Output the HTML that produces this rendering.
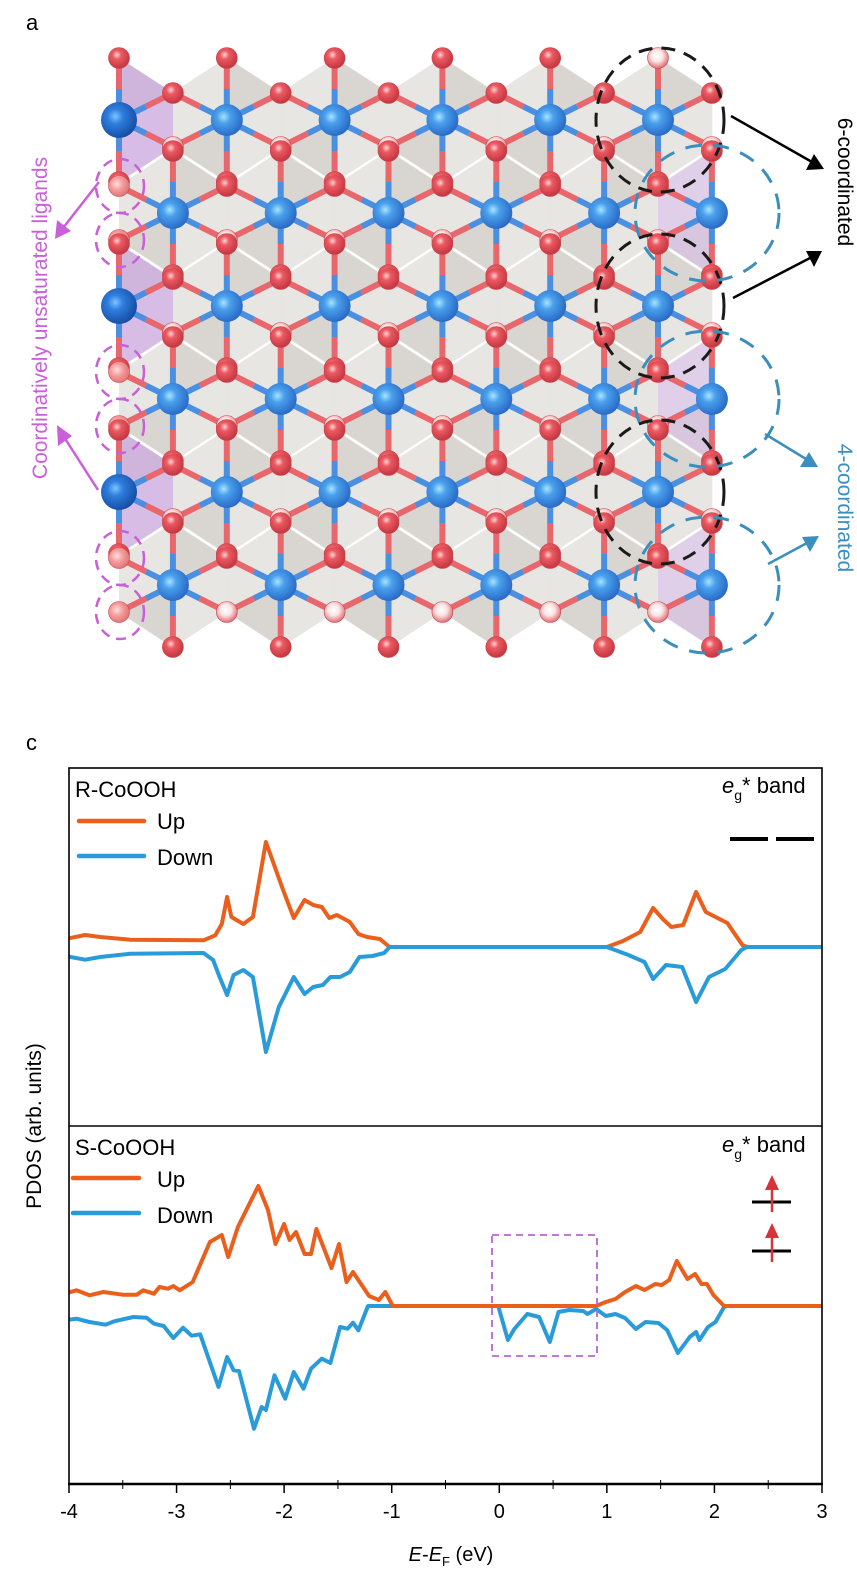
<!DOCTYPE html>
<html><head><meta charset="utf-8">
<style>
html,body{margin:0;padding:0;background:#fff;}
svg{display:block;font-family:"Liberation Sans",Arial,sans-serif;}
</style></head>
<body>
<svg id="fig" width="857" height="1582" viewBox="0 0 857 1582" xmlns="http://www.w3.org/2000/svg">
<defs>
<radialGradient id="gCo" cx="0.4" cy="0.4" r="0.6"><stop offset="0" stop-color="#a8e4ff"/><stop offset="0.35" stop-color="#4aa0ec"/><stop offset="1" stop-color="#2a6cc8"/></radialGradient>
<radialGradient id="gCoE" cx="0.4" cy="0.4" r="0.6"><stop offset="0" stop-color="#7cc4ff"/><stop offset="0.35" stop-color="#2f7ede"/><stop offset="1" stop-color="#174fa8"/></radialGradient>
<radialGradient id="gO" cx="0.4" cy="0.35" r="0.6"><stop offset="0" stop-color="#ffd6d6"/><stop offset="0.35" stop-color="#ec5a62"/><stop offset="1" stop-color="#c73a44"/></radialGradient>
<radialGradient id="gH" cx="0.45" cy="0.4" r="0.6"><stop offset="0" stop-color="#ffffff"/><stop offset="0.45" stop-color="#fbe6e6"/><stop offset="1" stop-color="#e06a70"/></radialGradient>
<radialGradient id="gP" cx="0.4" cy="0.4" r="0.6"><stop offset="0" stop-color="#ffe0e0"/><stop offset="0.5" stop-color="#f59a9a"/><stop offset="1" stop-color="#e07878"/></radialGradient>
<clipPath id="clipP"><rect x="69" y="768" width="753" height="716"/></clipPath>
<clipPath id="clipC"><rect x="119" y="40" width="594" height="620"/></clipPath>
</defs>

<text x="26" y="30" font-size="22">a</text>
<g id="crystal"></g>
<g id="annot"></g>

<text x="26" y="750" font-size="22">c</text>
<g id="chart"></g>
</svg>

<script>
// ---------- Chart data ----------
const xTicks = [-4,-3,-2,-1,0,1,2,3];
const xTickLabels = ["-4","-3","-2","-1","0","1","2","3"];
const rUpE = [-4.02,-3.85,-3.71,-3.43,-2.75,-2.64,-2.58,-2.53,-2.49,-2.38,-2.29,-2.17,-2.01,-1.91,-1.81,-1.73,-1.65,-1.58,-1.51,-1.39,-1.31,-1.23,-1.11,-1.02,0.0,1.0,1.15,1.31,1.43,1.52,1.60,1.71,1.83,1.92,2.12,2.26,2.3,3.0];
const rUpV = [8.3,12,10,7.3,6.7,11.7,23,50,30,23,30,105,57,29,47,42,40,29,32,25,13,10,8,0,0,0,6,15,39,28,20,22,55,35,24,2,0,0];
const rDnE = [-4.02,-3.85,-3.71,-3.43,-2.75,-2.66,-2.60,-2.53,-2.47,-2.38,-2.29,-2.17,-2.05,-1.91,-1.81,-1.73,-1.64,-1.57,-1.48,-1.39,-1.30,-1.18,-1.07,-1.02,0.0,1.0,1.2,1.35,1.43,1.55,1.7,1.83,1.95,2.1,2.25,2.3,3.0];
const rDnV = [-9.3,-12.7,-10,-6.7,-6,-13,-30,-48,-28,-23,-30,-105,-60,-30,-47,-40,-38,-30,-30,-25,-10,-9,-6,0,0,0,-8,-15,-32,-18,-20,-55,-30,-22,-3,0,0];
const sUpE = [-4.02,-3.93,-3.81,-3.68,-3.50,-3.37,-3.31,-3.21,-3.16,-3.08,-3.03,-2.97,-2.85,-2.69,-2.58,-2.52,-2.43,-2.24,-2.15,-2.08,-2.0,-1.95,-1.89,-1.81,-1.75,-1.70,-1.56,-1.49,-1.42,-1.36,-1.21,-1.12,-1.06,-0.99,0.0,0.90,0.99,1.08,1.17,1.27,1.35,1.45,1.51,1.58,1.65,1.75,1.82,1.88,1.93,1.99,2.09,3.0];
const sUpV = [13,15.7,10.7,14,11.3,11.3,15.7,12.3,19,17.3,20,15.7,24,64,71,49,79,120,96,62,82,66,74,52,52,77,38,62,24,34,10,6,14,0,0,0,4,7,14,20,16,22,21,26,45,27,32,22,22,11,0,0];
const sDnE = [-4.02,-3.93,-3.81,-3.66,-3.58,-3.40,-3.28,-3.21,-3.12,-3.03,-2.94,-2.86,-2.78,-2.61,-2.53,-2.47,-2.42,-2.28,-2.21,-2.17,-2.09,-1.99,-1.91,-1.82,-1.75,-1.65,-1.57,-1.48,-1.41,-1.36,-1.31,-1.22,-0.01,0.08,0.14,0.26,0.37,0.47,0.55,0.65,0.78,0.82,0.90,0.99,1.08,1.17,1.27,1.36,1.48,1.56,1.66,1.77,1.83,1.86,1.94,2.01,2.09,2.12,3.0];
const sDnV = [-14,-12.7,-16,-18.7,-15.3,-11,-11.7,-17.7,-20,-32,-21.7,-29.7,-28.3,-81,-51,-64.3,-65,-122.7,-101,-104,-69.3,-92.7,-66,-82.7,-62.7,-52.7,-57,-21,-22.7,-16.7,-24.3,0,0,-34,-23,-8,-11,-36,-6,-4,-5,-8,-3,-10,-8,-12,-23,-16,-17,-24,-47,-31,-26,-34,-21,-16,-1,0,0];

const NS="http://www.w3.org/2000/svg";
function mk(tag, attrs, parent){const e=document.createElementNS(NS,tag);for(const k in attrs)e.setAttribute(k,attrs[k]);if(parent)parent.appendChild(e);return e;}

const X0=69, X1=822, EMIN=-4, EMAX=3;
function xs(e){return X0+(e-EMIN)/(EMAX-EMIN)*(X1-X0);}
const ZERO1=947, ZERO2=1306, VK=1.0;
function ys1(v){return ZERO1-v*VK;}
function ys2(v){return ZERO2-v*VK;}

const chart=document.getElementById('chart');
function line(E,V,ys,color,name){
  let d='';
  for(let i=0;i<E.length;i++){d+=(i?'L':'M')+xs(E[i]).toFixed(1)+','+ys(V[i]).toFixed(1);}
  const p=mk('path',{d:d,fill:'none',stroke:color,'stroke-width':4,'stroke-linejoin':'round','stroke-linecap':'round','clip-path':'url(#clipP)'},chart);
  
  
}
const OR='#ea5f1c', BL='#2a9bd9';
line(rUpE,rUpV,ys1,OR,'r-cooh-up-line');
line(rDnE,rDnV,ys1,BL,'r-cooh-down-line');
line(sDnE,sDnV,ys2,BL,'s-cooh-down-line');
line(sUpE,sUpV,ys2,OR,'s-cooh-up-line');

const fr=mk('rect',{x:X0,y:768,width:X1-X0,height:1484-768,fill:'none',stroke:'#000','stroke-width':1.6},chart);


const dv=mk('line',{x1:X0,x2:X1,y1:1126,y2:1126,stroke:'#000','stroke-width':1.6},chart);


const xa=mk('line',{x1:X0-1,x2:X1+1,y1:1484,y2:1484,stroke:'#000','stroke-width':2.6},chart);



for(let i=0;i<xTicks.length;i++){
  const x=xs(xTicks[i]);
  const t=mk('line',{x1:x,x2:x,y1:1484,y2:1493,stroke:'#000','stroke-width':1.5},chart);
  
  
  const l=mk('text',{x:x,y:1518,'font-size':20,'text-anchor':'middle'},chart);
  l.textContent=xTickLabels[i];
  
  
  if(i<xTicks.length-1){
    const xm=xs(xTicks[i]+0.5);
    const m=mk('line',{x1:xm,x2:xm,y1:1480,y2:1489,stroke:'#000','stroke-width':1},chart);
    
    
  }
}
</script>

<script>
(function(){
const chart=document.getElementById('chart');
let h='';
h+='<text x="451" y="1561" font-size="20" text-anchor="middle"><tspan font-style="italic">E</tspan>-<tspan font-style="italic">E</tspan><tspan font-size="13" dy="5">F</tspan><tspan dy="-5"> (eV)</tspan></text>';
h+='<text transform="translate(41,1126) rotate(-90)" font-size="21" text-anchor="middle">PDOS (arb. units)</text>';
h+='<text x="75" y="797" font-size="22">R-CoOOH</text>';
h+='<line x1="79" x2="144" y1="821" y2="821" stroke="#ea5f1c" stroke-width="4.5" stroke-linecap="round"/>';
h+='<text x="157" y="829" font-size="22">Up</text>';
h+='<line x1="79" x2="144" y1="856" y2="856" stroke="#2a9bd9" stroke-width="4.5" stroke-linecap="round"/>';
h+='<text x="157" y="865" font-size="22">Down</text>';
h+='<text x="722" y="793" font-size="22"><tspan font-style="italic">e</tspan><tspan font-size="14" dy="7">g</tspan><tspan dy="-7">* band</tspan></text>';
h+='<line x1="730" x2="768" y1="839" y2="839" stroke="#000" stroke-width="4"/>';
h+='<line x1="776" x2="814" y1="839" y2="839" stroke="#000" stroke-width="4"/>';
h+='<text x="75" y="1155" font-size="22">S-CoOOH</text>';
h+='<line x1="73" x2="139" y1="1178" y2="1178" stroke="#ea5f1c" stroke-width="4.5" stroke-linecap="round"/>';
h+='<text x="157" y="1187" font-size="22">Up</text>';
h+='<line x1="73" x2="139" y1="1213" y2="1213" stroke="#2a9bd9" stroke-width="4.5" stroke-linecap="round"/>';
h+='<text x="157" y="1223" font-size="22">Down</text>';
h+='<text x="722" y="1152" font-size="22"><tspan font-style="italic">e</tspan><tspan font-size="14" dy="7">g</tspan><tspan dy="-7">* band</tspan></text>';
h+='<line x1="752" x2="791" y1="1202" y2="1202" stroke="#000" stroke-width="3"/>';
h+='<line x1="752" x2="791" y1="1251" y2="1251" stroke="#000" stroke-width="3"/>';
h+='<line x1="772" x2="772" y1="1212" y2="1186" stroke="#d9333a" stroke-width="2.5"/><path d="M772,1175 L765,1190 L779,1190 Z" fill="#d9333a"/>';
h+='<line x1="772" x2="772" y1="1262" y2="1234" stroke="#d9333a" stroke-width="2.5"/><path d="M772,1223 L765,1238 L779,1238 Z" fill="#d9333a"/>';
h+='<rect x="492" y="1235" width="105" height="121" fill="none" stroke="#b865d6" stroke-width="1.8" stroke-dasharray="7,5"/>';
chart.insertAdjacentHTML('beforeend',h);
})();
</script>

<script>
(function(){
const g=document.getElementById('crystal');
const an=document.getElementById('annot');
const rowsY=[120,213,306,399,492,585];
const dx=107.8, x0=119, half=53.9;
function rowX(r){const off=(r%2===0)?x0:x0+half;const a=[];for(let k=0;k<6;k++)a.push(+(off+k*dx).toFixed(1));return a;}
let poly='',bonds='',atoms='';
for(let r=0;r<6;r++){
  for(const x of rowX(r)){
    const y=rowsY[r];
    const pts=[[x,y-62],[x+half,y-27],[x+half,y+27],[x,y+62],[x-half,y+27],[x-half,y-27]];
    poly+='<polygon points="'+pts.map(p=>p.join(',')).join(' ')+'" fill="#cdc8c2" fill-opacity="0.45" stroke="#e8e6e2" stroke-width="1"/>';
    poly+='<polygon points="'+[[x,y-62],[x+half,y-27],[x,y]].map(p=>p.join(',')).join(' ')+'" fill="#bdb8b1" fill-opacity="0.35"/>';
    poly+='<polygon points="'+[[x,y+62],[x-half,y+27],[x,y]].map(p=>p.join(',')).join(' ')+'" fill="#bdb8b1" fill-opacity="0.35"/>';
  }
}
for(const r of [0,2,4]){const y=rowsY[r];poly+='<polygon points="'+[[119,y-62],[173,y-27],[173,y+27],[119,y+62]].map(p=>p.join(',')).join(' ')+'" fill="#c48ce8" fill-opacity="0.45"/>';}
for(const r of [1,3,5]){const y=rowsY[r];const x=x0+half+5*dx;poly+='<polygon points="'+[[x-half,y-27],[x,y-62],[x,y+62],[x-half,y+27]].map(p=>p.join(',')).join(' ')+'" fill="#d7b4ee" fill-opacity="0.45"/>';}
function bond(x1,y1,x2,y2){const mx=(x1+x2)/2,my=(y1+y2)/2;
  bonds+='<line x1="'+x1+'" y1="'+y1+'" x2="'+mx+'" y2="'+my+'" stroke="#4a8fe0" stroke-width="6"/>';
  bonds+='<line x1="'+mx+'" y1="'+my+'" x2="'+x2+'" y2="'+y2+'" stroke="#e8676c" stroke-width="6"/>';}
const Oset={};
for(let r=0;r<6;r++){
  for(const x of rowX(r)){
    const y=rowsY[r];
    const nb=[[x,y-62],[x+half,y-27],[x+half,y+27],[x,y+62],[x-half,y+27],[x-half,y-27]];
    for(const p of nb){
      p[0]=+p[0].toFixed(1);
      if(p[0]<110||p[0]>725)continue;
      bond(x,y,p[0],p[1]);
      Oset[p[0]+','+p[1]]=p;
    }
  }
}
for(const key in Oset){
  const [x,y]=Oset[key];
  let fill='url(#gO)';
  const isUpper = rowsY.some(ry=>Math.abs(y-(ry+27))<1);
  if(isUpper) fill='url(#gH)';
  if(x<125 && !rowsY.some(ry=>Math.abs(y-(ry-62))<1 || Math.abs(y-(ry+62))<1)) fill='url(#gP)';
  if(x>600 && y<60) fill='url(#gH)';
  atoms+='<circle cx="'+x+'" cy="'+y+'" r="10.5" fill="'+fill+'" stroke="#c9444c" stroke-width="0.6"/>';
}
for(let r=0;r<6;r++){
  for(const x of rowX(r)){
    const edge=(x<125);
    atoms+='<circle cx="'+x+'" cy="'+rowsY[r]+'" r="'+(edge?18:16)+'" fill="'+(edge?'url(#gCoE)':'url(#gCo)')+'"/>';
  }
}
g.innerHTML='<g clip-path="url(#clipC)">'+poly+'</g><g>'+bonds+'</g><g>'+atoms+'</g>';

let a='';
const pur='#c95fd9', blu='#3b8fbf';
for(const r of [1,3,5]){for(const s of [-27,27]){a+='<ellipse cx="120" cy="'+(rowsY[r]+s)+'" rx="24" ry="27" fill="none" stroke="'+pur+'" stroke-width="2.5" stroke-dasharray="10,7"/>';}}
for(const r of [0,2,4]){a+='<ellipse cx="660" cy="'+rowsY[r]+'" rx="64" ry="72" fill="none" stroke="#1a1a1a" stroke-width="3" stroke-dasharray="14,9"/>';}
for(const r of [1,3,5]){a+='<ellipse cx="707" cy="'+rowsY[r]+'" rx="72" ry="68" fill="none" stroke="'+blu+'" stroke-width="3" stroke-dasharray="16,12"/>';}
a+='<line x1="731" y1="116" x2="812" y2="162" stroke="#000" stroke-width="2.5"/><path d="M824,169 L806,170 L814,154 Z" fill="#000"/>';
a+='<line x1="733" y1="298" x2="810" y2="258" stroke="#000" stroke-width="2.5"/><path d="M822,251 L814,267 L806,251 Z" fill="#000"/>';
a+='<line x1="765" y1="434" x2="806" y2="459" stroke="'+blu+'" stroke-width="2.5"/><path d="M818,467 L800,467 L809,452 Z" fill="'+blu+'"/>';
a+='<line x1="768" y1="564" x2="807" y2="543" stroke="'+blu+'" stroke-width="2.5"/><path d="M819,536 L810,552 L802,537 Z" fill="'+blu+'"/>';
a+='<line x1="99" y1="182" x2="63" y2="228" stroke="'+pur+'" stroke-width="2.5"/><path d="M55,239 L57,220 L71,231 Z" fill="'+pur+'"/>';
a+='<line x1="98" y1="490" x2="64" y2="437" stroke="'+pur+'" stroke-width="2.5"/><path d="M57,425 L72,436 L58,446 Z" fill="'+pur+'"/>';
a+='<text transform="translate(838,182) rotate(90)" font-size="21" text-anchor="middle" fill="#000">6-coordinated</text>';
a+='<text transform="translate(838,508) rotate(90)" font-size="21" text-anchor="middle" fill="'+blu+'">4-coordinated</text>';
a+='<text transform="translate(47,318) rotate(-90)" font-size="21" text-anchor="middle" fill="'+pur+'">Coordinatively unsaturated ligands</text>';
an.innerHTML=a;
})();
</script>
</body></html>
